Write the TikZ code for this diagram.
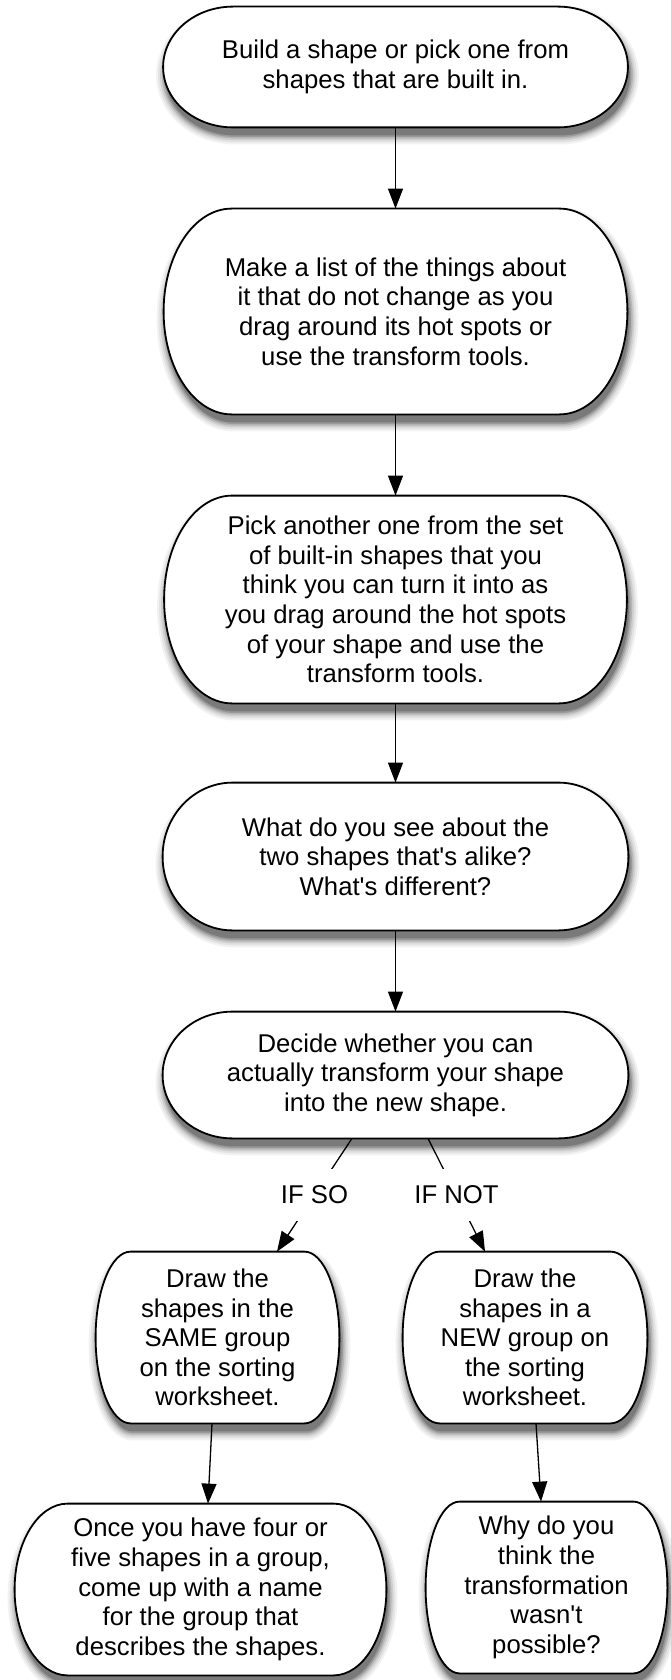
\documentclass[tikz,border=0pt]{standalone}
\usepackage{fontspec}
\setmainfont{Liberation Sans}
\usetikzlibrary{arrows.meta,calc,backgrounds}
\newcommand\termpath[3]{%
  \path[#3] let \p1=(#1.north west), \p2=(#1.south east), \n1={(\y1-\y2)/2} in
    (\x1+#2*0.5pt,\y1) -- (\x2-#2*0.5pt,\y1)
    arc[start angle=90,end angle=-90,x radius=#2*0.5pt,y radius={\n1*1pt}]
    -- (\x1+#2*0.5pt,\y2)
    arc[start angle=270,end angle=90,x radius=#2*0.5pt,y radius={\n1*1pt}] -- cycle;}
\newcommand\termshape[2]{%
  \begin{scope}[transform canvas={xshift=1pt,yshift=-4pt}]
  \termpath{#1}{#2}{shdA}%
  \termpath{#1}{#2}{shdB}%
  \termpath{#1}{#2}{shdC}%
  \termpath{#1}{#2}{shdD}%
  \termpath{#1}{#2}{shdE}%
  \termpath{#1}{#2}{shdF}%
  \end{scope}
  \termpath{#1}{#2}{termline}}
\begin{document}
\begin{tikzpicture}[x=0.5pt,y=0.5pt,
  txt/.style={align=center,inner sep=0pt,font=\fontsize{12.85pt}{14.8pt}\selectfont},
  termline/.style={draw=black,line width=0.9pt,fill=white},
  shdA/.style={draw=black!5,fill=black!5,line width=9pt},
  shdB/.style={draw=black!11,fill=black!11,line width=7pt},
  shdC/.style={draw=black!19,fill=black!19,line width=5pt},
  shdD/.style={draw=black!29,fill=black!29,line width=3.2pt},
  shdE/.style={draw=black!40,fill=black!40,line width=1.6pt},
  shdF/.style={fill=black!52},
  conn/.style={line width=0.65pt,-{Triangle[length=10pt,width=7.5pt]}},
  lbl/.style={font=\fontsize{12.85pt}{14.8pt}\selectfont,fill=white,inner xsep=2pt,inner ysep=8.4pt}]
\useasboundingbox (0,0) rectangle (670,-1680);

\node[txt,minimum width=232pt,minimum height=60pt] (n1) at (395.5,-67)
  {Build a shape or pick one from\\shapes that are built in.};
\node[txt,minimum width=231.5pt,minimum height=102.5pt] (n2) at (395.5,-311.5)
  {Make a list of the things about\\it that do not change as you\\drag around its hot spots or\\use the transform tools.};
\node[txt,minimum width=231pt,minimum height=103.5pt] (n3) at (395.5,-599.5)
  {Pick another one from the set\\of built-in shapes that you\\think you can turn it into as\\you drag around the hot spots\\of your shape and use the\\transform tools.};
\node[txt,minimum width=232.5pt,minimum height=73.5pt] (n4) at (395.5,-856.5)
  {What do you see about the\\two shapes that\textquotesingle s alike?\\What\textquotesingle s different?};
\node[txt,minimum width=232.5pt,minimum height=63pt] (n5) at (395.5,-1075)
  {Decide whether you can\\actually transform your shape\\into the new shape.};
\node[txt,minimum width=121.5pt,minimum height=85.5pt] (n6) at (217.5,-1337.5)
  {Draw the\\shapes in the\\SAME group\\on the sorting\\worksheet.};
\node[txt,minimum width=122pt,minimum height=85.5pt] (n7) at (525,-1337.5)
  {Draw the\\shapes in a\\NEW group on\\the sorting\\worksheet.};
\node[txt,minimum width=185.5pt,minimum height=85.5pt] (n8) at (200.5,-1589.5)
  {Once you have four or\\five shapes in a group,\\come up with a name\\for the group that\\describes the shapes.};
\node[txt,minimum width=120.5pt,minimum height=85.5pt] (n9) at (546.5,-1587.5)
  {Why do you\\think the\\transformation\\wasn\textquotesingle t\\possible?};

\begin{scope}[on background layer]
\termshape{n1}{70}
\termshape{n2}{68}
\termshape{n3}{68}
\termshape{n4}{70}
\termshape{n5}{70}
\termshape{n6}{35}
\termshape{n7}{37}
\termshape{n8}{53}
\termshape{n9}{34}
\end{scope}

\draw[conn] (n1.south) -- (n2.north);
\draw[conn] (n2.south) -- (n3.north);
\draw[conn] (n3.south) -- (n4.north);
\draw[conn] (n4.south) -- (n5.north);
\draw[conn] ($(n5.south)+(-43.5,0)$) -- node[lbl] {IF SO} ($(n6.north)+(59.5,0)$);
\draw[conn] ($(n5.south)+(32.5,0)$) -- node[lbl] {IF NOT} ($(n7.north)+(-40,0)$);
\draw[conn] ($(n6.south)+(-5.5,0)$) -- ($(n8.north)+(7.5,0)$);
\draw[conn] ($(n7.south)+(11,0)$) -- ($(n9.north)+(-5.5,0)$);
\end{tikzpicture}
\end{document}
